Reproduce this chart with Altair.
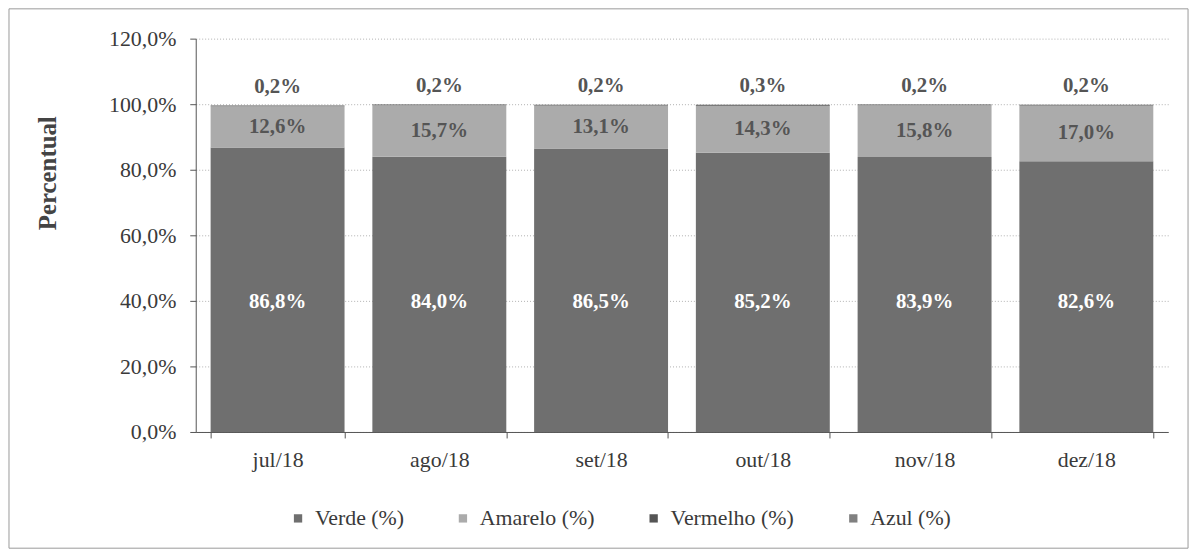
import altair as alt
import pandas as pd

meses = ["jul/18", "ago/18", "set/18", "out/18", "nov/18", "dez/18"]
series = ["Verde (%)", "Amarelo (%)", "Vermelho (%)", "Azul (%)"]
verde = [86.8, 84.0, 86.5, 85.2, 83.9, 82.6]
amarelo = [12.6, 15.7, 13.1, 14.3, 15.8, 17.0]
vermelho = [0.2, 0.2, 0.2, 0.3, 0.2, 0.2]
azul = [0.0, 0.0, 0.0, 0.0, 0.0, 0.0]
cores = ["#6f6f6f", "#ababab", "#555555", "#808080"]

rows = []
for i, m in enumerate(meses):
    for k, (s, vals) in enumerate(zip(series, [verde, amarelo, vermelho, azul])):
        rows.append({"mes": m, "serie": s, "idx": k, "valor": vals[i]})
df = pd.DataFrame(rows)

FONT = "'Liberation Serif', 'Times New Roman', 'DejaVu Serif', serif"

base = alt.Chart(df).transform_calculate(
    rotulo="replace(format(datum.valor, '.1f'), '.', ',') + '%'"
).transform_stack(
    stack="valor", groupby=["mes"], as_=["y0", "y1"], sort=[alt.SortField("idx", order="ascending")]
).transform_calculate(
    ymid="(datum.y0 + datum.y1) / 2"
)

xenc = alt.X("mes:N", sort=meses, title=None,
             scale=alt.Scale(paddingInner=0.172, paddingOuter=0.092),
             axis=alt.Axis(labelAngle=0, labelFont=FONT, labelFontSize=22, labelColor="#3a3a3a",
                           labelPadding=12, domainColor="#555555", tickColor="#555555",
                           tickSize=6, tickBand="extent", grid=False))

bars = base.mark_bar().encode(
    x=xenc,
    y=alt.Y("y0:Q", scale=alt.Scale(domain=[0, 120]),
            title="Percentual",
            axis=alt.Axis(values=[0, 20, 40, 60, 80, 100, 120],
                          labelExpr="replace(format(datum.value, '.1f'), '.', ',') + '%'",
                          labelFont=FONT, labelFontSize=22, labelColor="#3a3a3a", labelPadding=14,
                          titleFont=FONT, titleFontSize=25, titleFontWeight="bold", titleColor="#444444",
                          titleAngle=-90, titleX=-149, titleY=135, titleAlign="center",
                          titleBaseline="middle",
                          domainColor="#555555", tickColor="#555555", tickSize=6,
                          grid=True, gridColor="#b0b0b0", gridDash=[1, 2], gridWidth=1)),
    y2="y1:Q",
    color=alt.Color("serie:N", scale=alt.Scale(domain=series, range=cores),
                    legend=alt.Legend(title=None, orient="none", direction="horizontal",
                                      legendX=92, legendY=472, columns=4,
                                      symbolType="square", symbolSize=70, symbolStrokeWidth=0,
                                      labelFont=FONT, labelFontSize=22, labelColor="#3a3a3a",
                                      labelOffset=6, columnPadding=48)),
    order=alt.Order("idx:Q"),
)

lab_verde = base.transform_filter("datum.idx == 0").mark_text(
    font=FONT, fontSize=21, fontWeight="bold", color="white"
).encode(x=alt.X("mes:N", sort=meses), y=alt.Y(datum=39.5), text="rotulo:N")

lab_amarelo = base.transform_filter("datum.idx == 1").mark_text(
    font=FONT, fontSize=21, fontWeight="bold", color="#555555"
).encode(x=alt.X("mes:N", sort=meses), y="ymid:Q", text="rotulo:N")

lab_vermelho = base.transform_filter("datum.idx == 2").mark_text(
    font=FONT, fontSize=21, fontWeight="bold", color="#555555", baseline="bottom", dy=-9
).encode(x=alt.X("mes:N", sort=meses), y="y1:Q", text="rotulo:N")

borda = alt.Chart(alt.Data(values=[{"a": 1}])).mark_rect(
    fill=None, stroke="#999999", strokeWidth=1
).encode(x=alt.value(-188), x2=alt.value(999), y=alt.value(-30), y2=alt.value(513))

chart = alt.layer(bars, lab_verde, lab_amarelo, lab_vermelho, borda).properties(
    width=979, height=396,
    padding={"left": 189, "top": 29, "right": 26, "bottom": 121},
    autosize=alt.AutoSizeParams(type="none"),
).configure_view(stroke=None)

chart.save("out.html", embed_options={"renderer": "svg", "actions": False})
